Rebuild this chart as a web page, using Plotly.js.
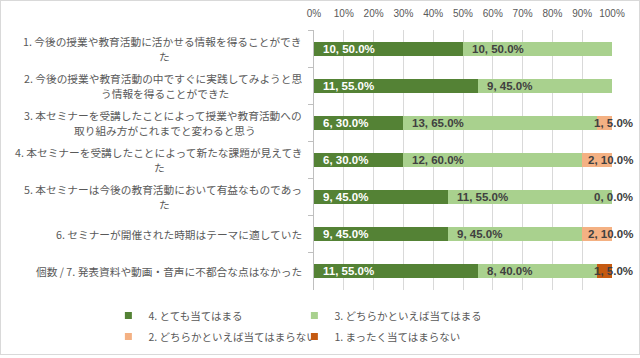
<!DOCTYPE html>
<html>
<head>
<meta charset="utf-8">
<script src="https://cdn.plot.ly/plotly-3.0.1.min.js"></script>
<style>
html,body{margin:0;padding:0;background:#fff;}
#wrap{position:relative;width:640px;height:358px;}
#chart{width:640px;height:358px;}
#frame{position:absolute;left:0;top:0;width:640px;height:355px;box-sizing:border-box;border:1px solid #d9d9d9;pointer-events:none;}
</style>
</head>
<body>
<div id="wrap"><div id="chart"></div><div id="frame"></div></div>
<script>
// ---- data ----
var categories = [
  "1. 今後の授業や教育活動に活かせる情報を得ることができ<br>た",
  "2. 今後の授業や教育活動の中ですぐに実践してみようと思<br>う情報を得ることができた",
  "3. 本セミナーを受講したことによって授業や教育活動への<br>取り組み方がこれまでと変わると思う",
  "4. 本セミナーを受講したことによって新たな課題が見えてき<br>た",
  "5. 本セミナーは今後の教育活動において有益なものであっ<br>た",
  "6. セミナーが開催された時期はテーマに適していた",
  "個数 / 7. 発表資料や動画・音声に不都合な点はなかった"
];
var seriesNames = ["4. とても当てはまる", "3. どちらかといえば当てはまる", "2. どちらかといえば当てはまらない", "1. まったく当てはまらない"];
var counts4 = [10, 11, 6, 6, 9, 9, 11];
var counts3 = [10, 9, 13, 12, 11, 9, 8];
var counts2 = [null, null, 1, 2, 0, 2, null];
var counts1 = [null, null, null, null, null, null, 1];
var xTickVals = [0,10,20,30,40,50,60,70,80,90,100];
var xTickText = ["0%","10%","20%","30%","40%","50%","60%","70%","80%","90%","100%"];

// ---- styles ----
var colors = ["#548235", "#A9D18E", "#F4B183", "#C55A11"];
var labelColors = ["#ffffff", "#404040", "#404040", "#404040"];
var legendRefs = ["legend", "legend", "legend2", "legend2"];
var allCounts = [counts4, counts3, counts2, counts1];

var totals = categories.map(function(_, i){
  var t = 0; allCounts.forEach(function(s){ if (s[i] != null) t += s[i]; }); return t;
});
function pct(s){ return s.map(function(v,i){ return v == null ? null : v / totals[i] * 100; }); }

var traces = allCounts.map(function(s, k){
  return {
    type: 'bar', orientation: 'h', name: seriesNames[k],
    y: categories, x: pct(s),
    marker: {color: colors[k], line: {width: 0}},
    showlegend: false,
    hoverinfo: 'none'
  };
});
// legend entries with small square swatches
allCounts.forEach(function(s, k){
  traces.push({
    type: 'scatter', mode: 'markers', name: seriesNames[k],
    x: [null], y: [null],
    marker: {symbol: 'square', size: 7, color: colors[k]},
    legend: legendRefs[k], showlegend: true, hoverinfo: 'none'
  });
});

// plot geometry (for label placement only)
var L = 314, R = 28, W = 640;
var plotW = W - L - R;
var labelFontSize = 11.5;
var catFontSize = 10.7;
var catFamily = "'Noto Sans CJK JP', sans-serif";
var canvas = document.createElement('canvas');
var ctx = canvas.getContext('2d');

var annotations = [];
categories.forEach(function(c, i){
  var lines = c.split('<br>');
  var catFont = {family: catFamily, size: catFontSize, color: '#595959'};
  if (lines.length === 1) {
    annotations.push({
      xref: 'paper', yref: 'y', x: 0, y: c, xanchor: 'right', yanchor: 'middle',
      xshift: -10, showarrow: false, text: lines[0], font: catFont
    });
  } else {
    ctx.font = catFontSize + "px 'Noto Sans CJK JP'";
    var w1 = ctx.measureText(lines[0]).width;
    annotations.push({
      xref: 'paper', yref: 'y', x: 0, y: c, xanchor: 'right', yanchor: 'middle',
      xshift: -10, yshift: 7.5, showarrow: false, text: lines[0], font: catFont
    });
    annotations.push({
      xref: 'paper', yref: 'y', x: 0, y: c, xanchor: 'center', yanchor: 'middle',
      xshift: -10 - w1 / 2, yshift: -7.5, showarrow: false, text: lines[1], font: catFont
    });
  }
  ctx.font = "bold " + labelFontSize + "px 'Liberation Sans'";
  var start = 0;
  allCounts.forEach(function(s, k){
    var v = s[i];
    if (v == null) return;
    var p = v / totals[i] * 100;
    var txt = v + ", " + p.toFixed(1) + "%";
    var w = ctx.measureText(txt).width + 2;
    var startPx = start / 100 * plotW;
    var shift = Math.min(7, (plotW + 21) - startPx - w);
    annotations.push({
      xref: 'x', yref: 'y', x: start, y: c, xanchor: 'left', yanchor: 'middle',
      xshift: shift, showarrow: false, text: '<b>' + txt + '</b>',
      font: {family: "'Liberation Sans', Arial, sans-serif", size: labelFontSize, color: labelColors[k]}
    });
    start += p;
  });
});

var legendFont = {family: "'Noto Sans CJK JP', sans-serif", size: 10.5, color: '#595959'};
var layout = {
  width: 640, height: 358,
  margin: {l: L, r: R, t: 30, b: 68, pad: 0, autoexpand: false},
  paper_bgcolor: '#fff', plot_bgcolor: '#fff',
  barmode: 'stack', bargap: 0.62,
  font: {family: "'Noto Sans CJK JP', sans-serif", color: '#595959'},
  xaxis: {
    side: 'top', range: [0, 100], tickvals: xTickVals, ticktext: xTickText,
    showgrid: true, gridcolor: '#d9d9d9', gridwidth: 1, zeroline: false,
    showline: false, ticks: '', fixedrange: true, ticklabelstandoff: 10,
    tickfont: {family: "'Liberation Sans', Arial, sans-serif", size: 10, color: '#595959'}
  },
  yaxis: {
    type: 'category', autorange: 'reversed', showticklabels: false,
    showline: true, linecolor: '#bfbfbf', linewidth: 1,
    ticks: 'outside', tickson: 'boundaries', ticklen: 5, tickcolor: '#bfbfbf',
    showgrid: false, zeroline: false, fixedrange: true
  },
  legend: {
    orientation: 'h', x: -0.69, xanchor: 'left', y: -0.0425, yanchor: 'top',
    entrywidth: 141, entrywidthmode: 'pixels', itemwidth: 30,
    font: legendFont, bgcolor: 'rgba(0,0,0,0)', traceorder: 'normal'
  },
  legend2: {
    orientation: 'h', x: -0.69, xanchor: 'left', y: -0.1235, yanchor: 'top',
    entrywidth: 141, entrywidthmode: 'pixels', itemwidth: 30,
    font: legendFont, bgcolor: 'rgba(0,0,0,0)', traceorder: 'normal'
  },
  annotations: annotations,
  showlegend: true
};

Plotly.newPlot('chart', traces, layout, {displayModeBar: false, staticPlot: true});
</script>
</body>
</html>
